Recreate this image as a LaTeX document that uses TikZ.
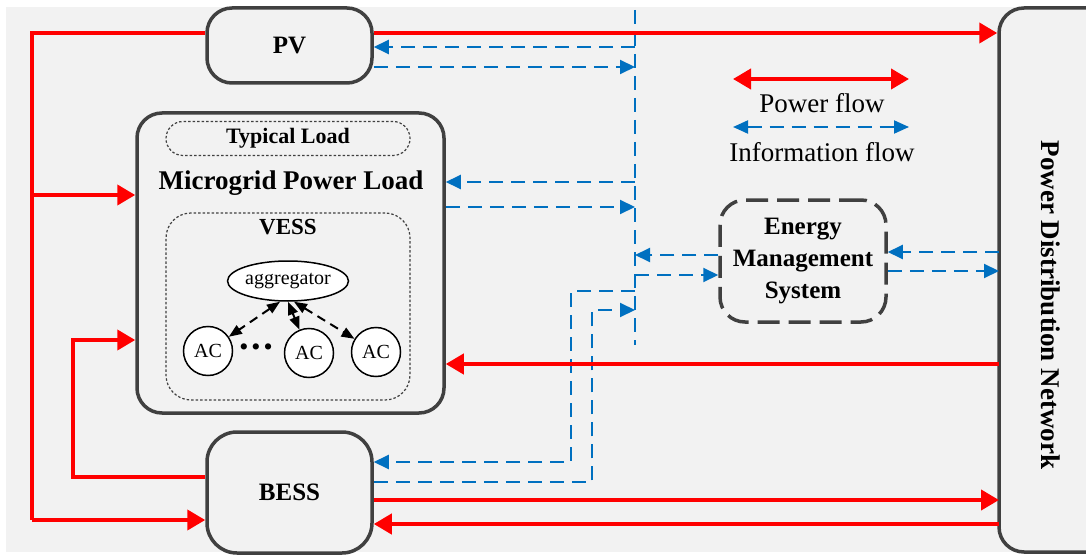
\documentclass[tikz,border=0pt]{standalone}
\usepackage{fontspec}
\setmainfont{Liberation Serif}
\usetikzlibrary{arrows.meta,shapes.geometric}
\definecolor{boxgray}{HTML}{404040}
\definecolor{bggray}{HTML}{F2F2F2}
\definecolor{infoblue}{HTML}{0070C0}
\definecolor{powerred}{HTML}{FF0000}

\begin{document}
\begin{tikzpicture}[x=1pt,y=-1pt,
    blk/.style={draw=boxgray, line width=3.5pt, rectangle, rounded corners=25pt, fill=bggray, inner sep=0pt, font=\bfseries\fontsize{25}{30}\selectfont},
    dotbox/.style={draw=boxgray, line width=1.2pt, dash pattern=on 2.5pt off 2pt, rectangle, inner sep=0pt},
    power/.style={draw=powerred, line width=4pt, -{Triangle[length=18pt,width=20pt]}},
    infoline/.style={draw=infoblue, line width=2pt, dash pattern=on 14pt off 8pt},
    info/.style={infoline, -{Triangle[length=15pt,width=14pt]}},
    ac/.style={draw, circle, fill=white, line width=1.5pt, minimum size=49pt, inner sep=0pt, font=\fontsize{20}{20}\selectfont},
    link/.style={line width=2pt, dash pattern=on 9pt off 6pt, {Triangle[length=13pt,width=10pt]}-{Triangle[length=13pt,width=10pt]}}]
    % Background
    \fill[bggray] (6,7) rectangle (1086,552);
    \useasboundingbox (0,0) rectangle (1086,556);

    % Sources and loads
    \node[blk, minimum width=165pt, minimum height=75pt] (pv) at (289.5,45.5) {PV};
    \node[blk, minimum width=307pt, minimum height=300pt] (mg) at (290.5,263) {};
    \node[blk, minimum width=165pt, minimum height=121pt, rounded corners=30pt] (bess) at (289.5,492.5) {BESS};

    \node[dotbox, rounded corners=17pt, minimum width=244pt, minimum height=34pt, font=\bfseries\fontsize{22}{24}\selectfont] (typ) at (288,138.5) {Typical Load};
    \node[font=\bfseries\fontsize{27}{30}\selectfont] (mgtitle) at (291,183) {Microgrid Power Load};
    \node[dotbox, rounded corners=25pt, minimum width=244pt, minimum height=187pt] (vess) at (288,306.5) {};
    \node[font=\bfseries\fontsize{23}{26}\selectfont] (vesstitle) at (288,227) {VESS};

    % VESS members
    \node[draw, ellipse, fill=white, line width=1.5pt, minimum width=117pt, minimum height=40pt, inner sep=0pt, font=\fontsize{20}{22}\selectfont] (agg) at (288,281) {aggregator};
    \node[ac] (ac1) at (208,351) {AC};
    \node[ac] (ac2) at (309,353) {AC};
    \node[ac] (ac3) at (376,352) {AC};
    \node[font=\fontsize{26}{26}\selectfont] (dots) at (256,350) {\textbullet\hspace{3pt}\textbullet\hspace{3pt}\textbullet};

    % Control and grid
    \node[blk, dash pattern=on 22pt off 9pt, minimum width=166pt, minimum height=122pt, align=center, font=\bfseries\fontsize{25}{32}\selectfont] (ems) at (803,261) {Energy\\Management\\System};
    \begin{scope}
        \clip (0,0) rectangle (1086,556);
        \node[blk, minimum width=120pt, minimum height=544pt] (pdn) at (1059,280) {};
    \end{scope}
    \node[rotate=-90, font=\bfseries\fontsize{27}{30}\selectfont] (pdntitle) at (1051,305) {Power Distribution Network};

    % Legend
    \coordinate (pfa) at (733,79);
    \coordinate (pfb) at (909,79);
    \coordinate (ifa) at (733,127);
    \coordinate (ifb) at (909,127);
    \draw[power, {Triangle[length=18pt,width=20pt]}-{Triangle[length=18pt,width=20pt]}] (pfa) -- (pfb);
    \draw[infoline, {Triangle[length=15pt,width=13pt]}-{Triangle[length=15pt,width=13pt]}] (ifa) -- (ifb);
    \node[font=\fontsize{27}{28}\selectfont] (pftext) at (822,103) {Power flow};
    \node[font=\fontsize{27}{28}\selectfont] (iftext) at (822,152) {Information flow};

    % Information bus
    \coordinate (bustop) at (635,10);
    \coordinate (busbot) at (635,345);
    \draw[infoline] (bustop) -- (busbot);
    \coordinate (t1) at (635,47);
    \coordinate (t2) at (635,67);
    \coordinate (t3) at (635,182);
    \coordinate (t4) at (635,207);
    \coordinate (t5) at (635,255);
    \coordinate (t6) at (635,275);
    \coordinate (t7) at (635,291);
    \coordinate (t8) at (635,310);
    \coordinate (c7) at (571,462);
    \coordinate (c8) at (592,482);
    \coordinate (p1) at (999,252);
    \coordinate (p2) at (999,271);
    \draw[info] (t1) -- (pv.east |- t1);
    \draw[info] (pv.east |- t2) -- (t2);
    \draw[info] (t3) -- (mg.east |- t3);
    \draw[info] (mg.east |- t4) -- (t4);
    \draw[info] (ems.west |- t5) -- (t5);
    \draw[info] (t6) -- (ems.west |- t6);
    \draw[info] (t7) -| (c7) -- (bess.east |- c7);
    \draw[info] (bess.east |- c8) -- (c8) |- (t8);
    \draw[info] (p1) -- (ems.east |- p1);
    \draw[info] (ems.east |- p2) -- (p2);

    % Power lines
    \coordinate (l1) at (32,33);
    \coordinate (l2) at (32,195);
    \coordinate (l3) at (32,520);
    \coordinate (k1) at (73,340);
    \coordinate (k2) at (73,477);
    \coordinate (r1) at (999,364);
    \coordinate (r2) at (999,500);
    \coordinate (r3) at (999,524);
    \draw[power] (pv.east |- l1) -- (pdn.west |- l1);
    \draw[power, -] (pv.west |- l1) -- (l1) -- (l3);
    \draw[power] (l3) -- (bess.west |- l3);
    \draw[power] (l2) -- (mg.west |- l2);
    \draw[power] (bess.west |- k2) -- (k2) -- (k1) -- (mg.west |- k1);
    \draw[power] (r1) -- (mg.east |- r1);
    \draw[power] (bess.east |- r2) -- (r2);
    \draw[power] (r3) -- (bess.east |- r3);

    % Aggregator links
    \draw[link] ([xshift=-8pt]agg.south) -- (ac1);
    \draw[link] (agg.south) -- (ac2);
    \draw[link] ([xshift=6pt]agg.south) -- (ac3);
\end{tikzpicture}
\end{document}
